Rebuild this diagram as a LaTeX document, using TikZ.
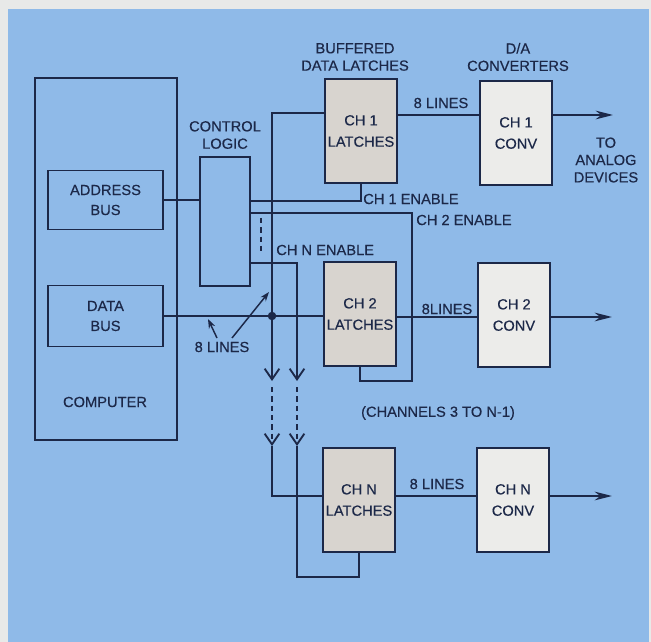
\documentclass[tikz,border=0pt]{standalone}
\usepackage{fontspec}
\setmainfont{Liberation Sans}[FakeBold=0.4]
\usetikzlibrary{arrows.meta}
\definecolor{bg}{RGB}{143,186,232}
\definecolor{strip}{RGB}{232,233,232}
\definecolor{ink}{RGB}{28,40,72}
\definecolor{latchfill}{RGB}{216,212,207}
\definecolor{convfill}{RGB}{236,236,234}
\begin{document}
\begin{tikzpicture}[x=0.75pt,y=-0.75pt,
  every node/.style={text=ink,font=\fontsize{11}{13}\selectfont,inner sep=0pt,align=center},
  wire/.style={draw=ink,line width=1.4pt},
  box/.style={draw=ink,line width=1.4pt,rectangle,align=center,inner sep=0pt},
  latch/.style={box,fill=latchfill,minimum width=54pt,minimum height=78pt,font=\fontsize{11}{16}\selectfont},
  conv/.style={box,fill=convfill,minimum width=54pt,minimum height=78pt,font=\fontsize{11}{16}\selectfont},
  vtip/.style={-{Straight Barb[length=8pt,width=11pt]}},
  otip/.style={-{Stealth[length=13pt,width=6.5pt]}},
  ltip/.style={-{Stealth[length=7pt,width=5pt]}},
  dotline/.style={wire,dash pattern=on 4pt off 3pt}]
% background
\fill[strip] (0,0) rectangle (651,642);
\fill[bg] (8,9) rectangle (649,642);
\path[use as bounding box] (0,0) rectangle (651,642);
% computer
\node[box,minimum width=106.5pt,minimum height=271.5pt] (comp) at (106,259) {};
\node (comptxt) at (105,402) {COMPUTER};
\node[box,minimum width=86.25pt,minimum height=44.25pt,font=\fontsize{11}{15}\selectfont] (addr) at (105.5,200) {ADDRESS\\BUS};
\node[box,minimum width=86.25pt,minimum height=45.75pt,font=\fontsize{11}{15}\selectfont] (data) at (105.5,316) {DATA\\BUS};
% control logic
\node[box,minimum width=37.5pt,minimum height=96.75pt] (ctrl) at (225,221.5) {};
\node (ctrltxt) at (225,135) {CONTROL\\LOGIC};
% latches and converters
\node[latch] (L1) at (361,131) {CH 1\\LATCHES};
\node[latch] (L2) at (360,314) {CH 2\\LATCHES};
\node[latch] (LN) at (359,500) {CH N\\LATCHES};
\node[conv] (C1) at (516,133) {CH 1\\CONV};
\node[conv] (C2) at (514,315) {CH 2\\CONV};
\node[conv] (CN) at (513,500) {CH N\\CONV};
% titles and labels
\node (t1) at (355,57) {BUFFERED\\DATA LATCHES};
\node (t2) at (518,57) {D/A\\CONVERTERS};
\node (t3) at (606,160) {TO\\ANALOG\\DEVICES};
\node[anchor=west] (en1) at (363,199) {CH 1 ENABLE};
\node[anchor=west] (en2) at (416,220) {CH 2 ENABLE};
\node[anchor=west] (enN) at (276,250) {CH N ENABLE};
\node (l8a) at (441,103) {8 LINES};
\node (l8b) at (447,309) {8LINES};
\node (l8c) at (437,484) {8 LINES};
\node (l8d) at (222,347) {8 LINES};
\node (chn) at (438,413) {(CHANNELS 3 TO N-1)};
% rows and columns
\coordinate (r1) at (0,201);
\coordinate (r2) at (0,213);
\coordinate (rN) at (0,263);
\coordinate (rd) at (0,113);
\coordinate (ry1) at (0,381);
\coordinate (ry1b) at (0,387);
\coordinate (ry2) at (0,446);
\coordinate (rl2) at (0,381);
\coordinate (rlN) at (0,577);
\coordinate (rNd) at (0,496);
\coordinate (ro1) at (0,115);
\coordinate (ro2) at (0,317);
\coordinate (xd) at (272,0);
\coordinate (xn) at (297,0);
\coordinate (x2) at (412,0);
\coordinate (o1) at (613,115);
\coordinate (o2) at (612,317);
\coordinate (oN) at (612,496);
\coordinate (d1) at (261,218);
\coordinate (d2) at (261,253);
\coordinate (a1s) at (217,338);
\coordinate (a1e) at (208,319);
\coordinate (a2s) at (232,338);
\coordinate (a2e) at (269,292);
% address bus to control logic
\draw[wire] (addr.east) -- (addr.east -| ctrl.west);
% enables
\draw[wire] (ctrl.east |- r1) -| (L1.south);
\draw[wire] (ctrl.east |- r2) -| (x2 |- rl2) -| (L2.south);
\draw[wire,vtip] (ctrl.east |- rN) -| (xn |- ry1);
\draw[dotline] (d1) -- (d2);
% data lines
\draw[wire,vtip] (L1.west |- rd) -| (xd |- ry1);
\draw[wire] (data.east) -- (L2.west |- data.east);
\fill[ink] (xd |- data.east) circle (3.2pt);
\draw[dotline,vtip] (xd |- ry1b) -- (xd |- ry2);
\draw[dotline,vtip] (xn |- ry1b) -- (xn |- ry2);
\draw[wire] (xd |- ry2) |- (LN.west |- rNd);
\draw[wire] (xn |- ry2) |- (LN.south |- rlN) -- (LN.south);
% 8 lines pointers
\draw[wire,line width=1.1pt,ltip] (a1s) -- (a1e);
\draw[wire,line width=1.1pt,ltip] (a2s) -- (a2e);
% latches to converters
\draw[wire] (L1.east |- ro1) -- (C1.west |- ro1);
\draw[wire] (L2.east |- ro2) -- (C2.west |- ro2);
\draw[wire] (LN.east |- rNd) -- (CN.west |- rNd);
% outputs
\draw[wire,otip] (C1.east |- o1) -- (o1);
\draw[wire,otip] (C2.east |- o2) -- (o2);
\draw[wire,otip] (CN.east |- oN) -- (oN);
\end{tikzpicture}
\end{document}
